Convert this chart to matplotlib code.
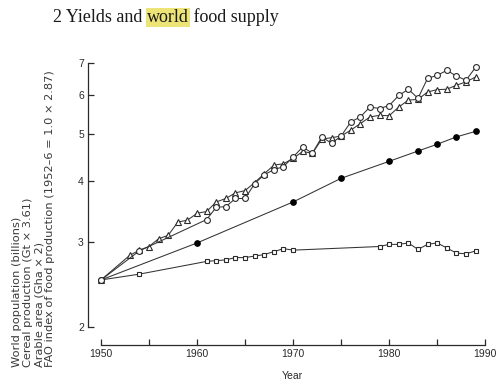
import matplotlib
matplotlib.use("Agg")
import matplotlib.pyplot as plt
from matplotlib.ticker import FixedLocator, NullFormatter, NullLocator

# World population (billions)
pop_years = [1950, 1960, 1970, 1975, 1980, 1983, 1985, 1987, 1989]
pop = [2.5, 2.98, 3.62, 4.05, 4.39, 4.61, 4.76, 4.93, 5.06]

# Cereal production (Gt x 3.61)
cereal_years = [1950, 1954, 1961, 1962, 1963, 1964, 1965, 1966, 1967, 1968,
                1969, 1970, 1971, 1972, 1973, 1974, 1975, 1976, 1977, 1978,
                1979, 1980, 1981, 1982, 1983, 1984, 1985, 1986, 1987, 1988, 1989]
cereal = [2.5, 2.87, 3.33, 3.53, 3.54, 3.68, 3.68, 3.95, 4.12, 4.22,
          4.28, 4.48, 4.70, 4.56, 4.93, 4.78, 4.95, 5.29, 5.42, 5.68,
          5.64, 5.72, 6.00, 6.18, 5.92, 6.51, 6.60, 6.76, 6.58, 6.45, 6.86]

# Arable area (Gha x 2)
arable_years = [1950, 1954, 1961, 1962, 1963, 1964, 1965, 1966, 1967, 1968,
                1969, 1970, 1979, 1980, 1981, 1982, 1983, 1984, 1985, 1986,
                1987, 1988, 1989]
arable = [2.5, 2.57, 2.73, 2.74, 2.75, 2.78, 2.78, 2.80, 2.82, 2.86,
          2.90, 2.88, 2.93, 2.96, 2.96, 2.98, 2.89, 2.96, 2.98, 2.91,
          2.84, 2.83, 2.87]

# FAO index of food production (1952-6 = 1.0 x 2.87)
fao_years = [1950] + list(range(1953, 1990))
fao = [2.5,
       2.81, 2.88, 2.93, 3.04, 3.09, 3.29, 3.32,
       3.43, 3.46, 3.62, 3.68, 3.78, 3.82, 3.97, 4.14, 4.31, 4.34,
       4.45, 4.60, 4.56, 4.88, 4.91, 4.95, 5.09, 5.25, 5.42, 5.46,
       5.45, 5.68, 5.87, 5.89, 6.10, 6.17, 6.18, 6.30, 6.40, 6.55]

y_ticks = [2, 3, 4, 5, 6, 7]
x_major = [1950, 1960, 1970, 1980, 1990]
x_minor = [1955, 1965, 1975, 1985]

ylabel_lines = [
    "World population (billions)",
    "Cereal production (Gt \u00d7 3.61)",
    "Arable area (Gha \u00d7 2)",
    "FAO index of food production (1952\u20136 = 1.0 \u00d7 2.87)",
]

INK = "#2a2a2a"
SANS = ["Liberation Sans", "DejaVu Sans"]
WIDE = ["DejaVu Sans"]
SERIF = ["Liberation Serif", "DejaVu Serif"]

W, H = 504, 385
fig = plt.figure(figsize=(W / 100, H / 100), dpi=100)
fig.patch.set_facecolor("white")

ax = fig.add_axes([88 / W, 1 - 345 / H, (491 - 88) / W, (345 - 63) / H])
ax.set_yscale("log")
ax.set_xlim(1948.65, 1990.6)
ax.set_ylim(1.836, 7.0)

line_kw = dict(color="#333333", lw=0.75, clip_on=False)
ax.plot(arable_years, arable, marker="s", ms=3.4, mfc="white", mec=INK, mew=0.8, **line_kw)
ax.plot(pop_years, pop, marker="o", ms=4.0, mfc="black", mec="black", mew=0.8, **line_kw)
ax.plot(fao_years, fao, marker="^", ms=4.0, mfc="white", mec=INK, mew=0.8, **line_kw)
ax.plot(cereal_years, cereal, marker="o", ms=4.2, mfc="white", mec=INK, mew=0.8, **line_kw)

for side in ("top", "right"):
    ax.spines[side].set_visible(False)
ax.spines["left"].set_bounds(2, 7)
ax.spines["bottom"].set_bounds(1950, 1990)
for side in ("left", "bottom"):
    ax.spines[side].set_color(INK)
    ax.spines[side].set_linewidth(0.9)

ax.yaxis.set_major_locator(FixedLocator(y_ticks))
ax.yaxis.set_minor_locator(NullLocator())
ax.yaxis.set_minor_formatter(NullFormatter())
ax.set_yticklabels([str(t) for t in y_ticks])
ax.xaxis.set_major_locator(FixedLocator(x_major))
ax.xaxis.set_minor_locator(FixedLocator(x_minor))
ax.set_xticklabels([str(t) for t in x_major])

ax.tick_params(axis="both", which="both", direction="in", length=4, width=0.9,
               color=INK, labelcolor=INK, labelsize=7.5, pad=3)
for lab in ax.get_xticklabels() + ax.get_yticklabels():
    lab.set_family(SANS)

fig.text(292 / W, 1 - 376 / H, "Year", ha="center", va="center",
         fontsize=7.5, color=INK, family=SANS)

# stacked rotated axis description, one line per series
for i, txt in enumerate(ylabel_lines):
    fig.text((17 + 11 * i) / W, 1 - 367 / H, txt, rotation=90,
             ha="center", va="bottom", fontsize=8.2, color="#3a3a3a", family=WIDE)

# running head with a highlighted word
fig.canvas.draw()
renderer = fig.canvas.get_renderer()
ybase = 1 - 22 / H
parts = ["2 Yields and ", "world", " food supply"]
x = 53
for j, p in enumerate(parts):
    t = fig.text(x / W, ybase, p, ha="left", va="baseline", fontsize=13,
                 color="#1a1a1a", family=SERIF)
    if j == 1:
        t.set_bbox(dict(boxstyle="square,pad=0.06", fc="#ece476", ec="none"))
    fig.canvas.draw()
    x = t.get_window_extent(renderer).x1

fig.savefig("out.png", dpi=100, facecolor="white")
